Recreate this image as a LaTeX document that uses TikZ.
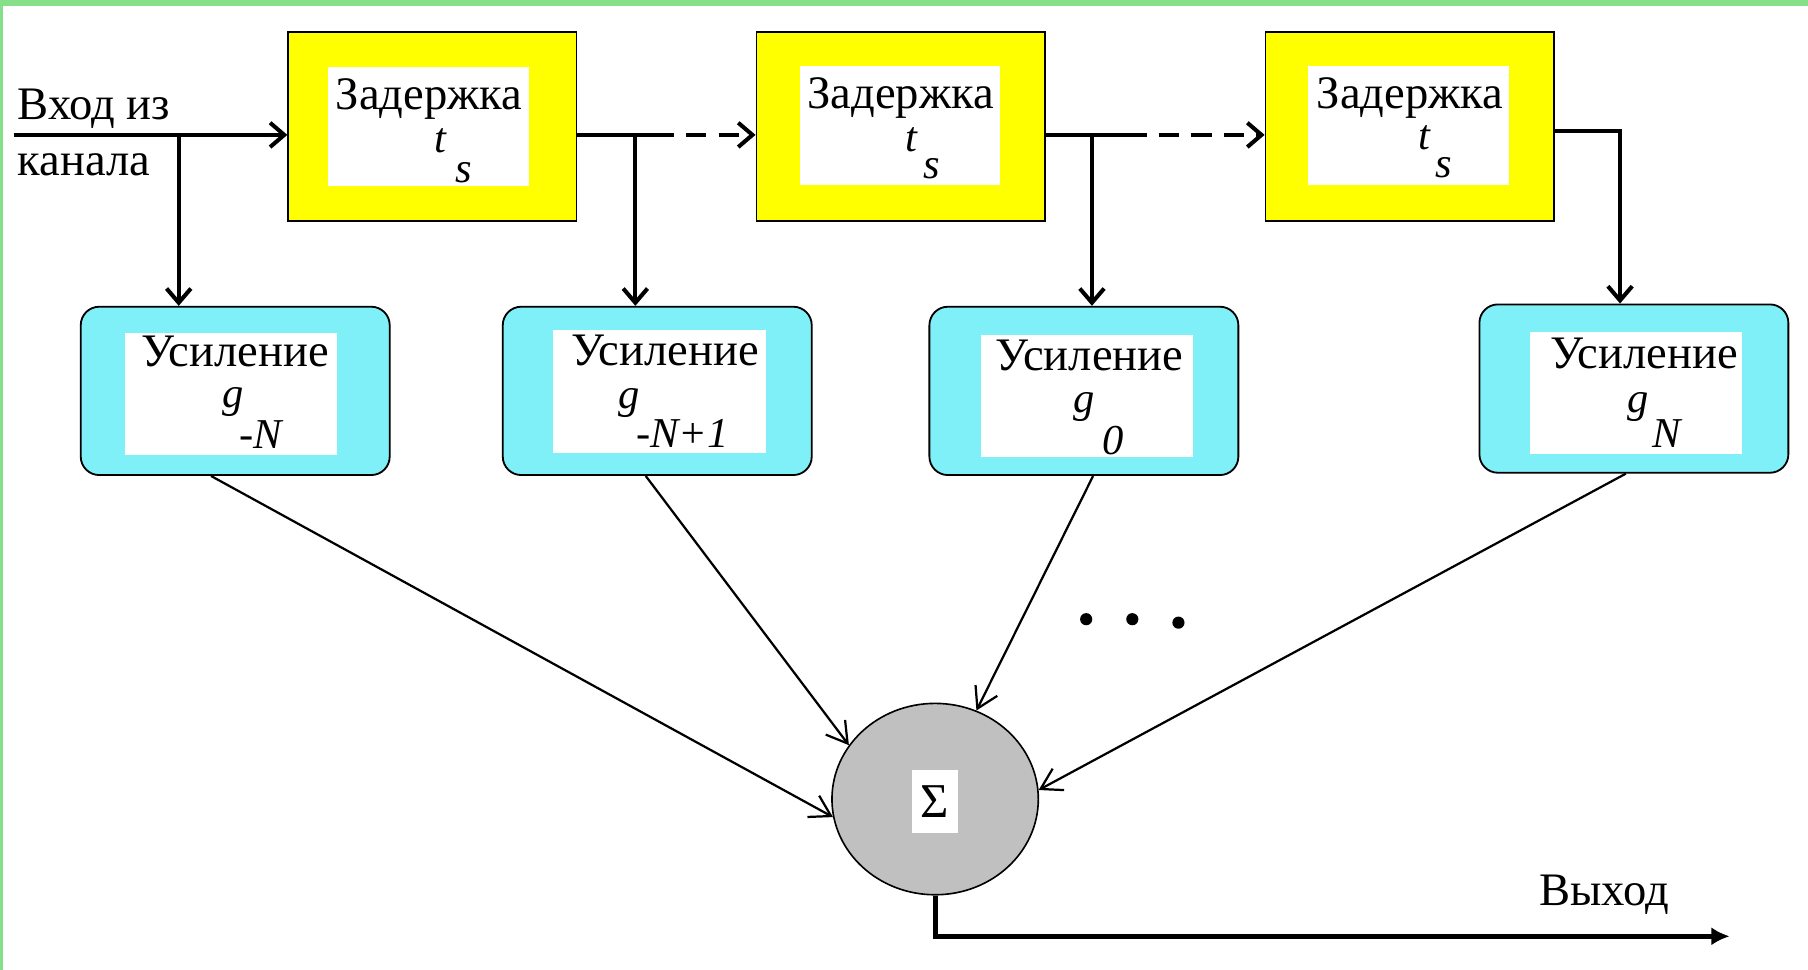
\documentclass[tikz,border=0pt]{standalone}
\usepackage{fontspec}
\setmainfont{Liberation Serif}
\usetikzlibrary{arrows.meta,shapes.geometric}
\definecolor{dyel}{RGB}{255,255,0}
\definecolor{gcyan}{RGB}{128,240,248}
\definecolor{sgray}{RGB}{192,192,192}
\definecolor{frgreen}{RGB}{134,224,138}
\begin{document}
\begin{tikzpicture}[x=0.02cm,y=-0.02cm,
 delaybox/.style={draw=black, line width=0.9pt, fill=dyel, minimum width=5cm, minimum height=3.28cm, inner sep=0pt},
 gainbox/.style={draw=black, line width=0.9pt, fill=gcyan, rounded corners=0.32cm, minimum width=5.36cm, minimum height=2.92cm, inner sep=0pt},
 dinner/.style={fill=white, minimum width=3.48cm, minimum height=2.06cm, inner sep=0pt},
 ginner/.style={fill=white, minimum width=3.68cm, minimum height=2.12cm, inner sep=0pt},
 lbl/.style={font=\fontsize{23}{26}\selectfont, inner sep=0pt, anchor=base},
 sub/.style={font=\fontsize{21}{24}\selectfont\itshape, inner sep=0pt, anchor=base},
 mainline/.style={line width=2pt},
 tap/.style={line width=2pt, -{Straight Barb[length=7pt,width=12pt,line width=2pt]}},
 diag/.style={line width=1.1pt, -{Straight Barb[length=10pt,width=12pt,line width=1.1pt]}},
 sumnode/.style={ellipse, draw=black, line width=0.8pt, fill=sgray, minimum width=3.58cm, minimum height=3.32cm, inner sep=0pt},
]
\useasboundingbox (0,0) rectangle (1568,841);
\fill[frgreen] (0,0) rectangle (1568,5);
\fill[frgreen] (0,0) rectangle (2.5,841);

% delay boxes
\node[delaybox] (d1) at (375,110) {};
\node[dinner] (d1i) at (371.5,110) {};
\node[lbl] (d1t) at (372,95) {Задержка};
\node[sub] (d1a) at (382,132) {t};
\node[sub] (d1b) at (402,158) {s};

\node[delaybox] (d2) at (781,110) {};
\node[dinner] (d2i) at (780.5,109) {};
\node[lbl] (d2t) at (781,94) {Задержка};
\node[sub] (d2a) at (790,131) {t};
\node[sub] (d2b) at (808,155) {s};

\node[delaybox] (d3) at (1222.5,110) {};
\node[dinner] (d3i) at (1221.5,109) {};
\node[lbl] (d3t) at (1223,94) {Задержка};
\node[sub] (d3a) at (1235,130) {t};
\node[sub] (d3b) at (1252,154) {s};

% gain boxes
\node[gainbox] (g1) at (204,339) {};
\node[ginner] (g1i) at (200,341.5) {};
\node[lbl] (g1t) at (204,318) {Усиление};
\node[sub] (g1a) at (202,353) {g};
\node[sub] (g1b) at (226,389) {-N};

\node[gainbox] (g2) at (570,339) {};
\node[ginner] (g2i) at (572,339.5) {};
\node[lbl] (g2t) at (577,317) {Усиление};
\node[sub] (g2a) at (546,354) {g};
\node[sub] (g2b) at (592,388) {-N+1};

\node[gainbox] (g3) at (940,339) {};
\node[ginner] (g3i) at (942.5,343.5) {};
\node[lbl] (g3t) at (945,321) {Усиление};
\node[sub] (g3a) at (940,358) {g};
\node[sub] (g3b) at (965,394) {0};

\node[gainbox] (g4) at (1417,337) {};
\node[ginner] (g4i) at (1419,341) {};
\node[lbl] (g4t) at (1426,320) {Усиление};
\node[sub] (g4a) at (1421,358) {g};
\node[sub] (g4b) at (1445,388) {N};

% summer
\node[sumnode] (sum) at (811,693) {};
\node[fill=white, minimum width=0.8cm, minimum height=1.08cm, inner sep=0pt, font=\fontsize{24}{26}\selectfont] (sig) at (811,695) {Σ};

% labels
\node[lbl, anchor=base west] (inl1) at (15,104) {Вход из};
\node[lbl, anchor=base west] (inl2) at (15,152) {канала};
\node[lbl] (outl) at (1391,785) {Выход};

% main line
\coordinate (in) at (12,117);
\draw[tap] (in) -- (in -| d1.west);
\coordinate (b1) at (155,117);
\draw[tap] (b1) -- (b1 |- g1.north);

\coordinate (b2) at (551,117);
\coordinate (s2) at (567,117);
\draw[mainline] (d1.east |- b2) -- (s2);
\draw[tap, dash pattern=on 10pt off 6pt] (s2) -- (s2 -| d2.west);
\draw[tap] (b2) -- (b2 |- g2.north);

\coordinate (b3) at (947,117);
\coordinate (s3) at (977,117);
\draw[mainline] (d2.east |- b3) -- (s3);
\draw[tap, dash pattern=on 10pt off 6pt] (s3) -- (s3 -| d3.west);
\draw[tap] (b3) -- (b3 |- g3.north);

\coordinate (b4) at (1405,114);
\draw[tap] (d3.east |- b4) -- (b4) -- (b4 |- g4.north);

% to summer
\draw[diag] ([xshift=-0.42cm]g1.south) -- (sum.190);
\draw[diag] ([xshift=-0.2cm]g2.south) -- (sum.148);
\draw[diag] ([xshift=0.16cm]g3.south) -- (sum.65);
\draw[diag] ([xshift=-0.14cm]g4.south) -- (sum.5);

% dots
\fill (942,537) circle (3pt);
\fill (982,537) circle (3pt);
\fill (1022,540) circle (3pt);

% output
\coordinate (outend) at (1500,812);
\draw[line width=2.5pt, -{Latex[length=9pt,width=9pt]}] (sum.south) |- (outend);
\end{tikzpicture}
\end{document}
